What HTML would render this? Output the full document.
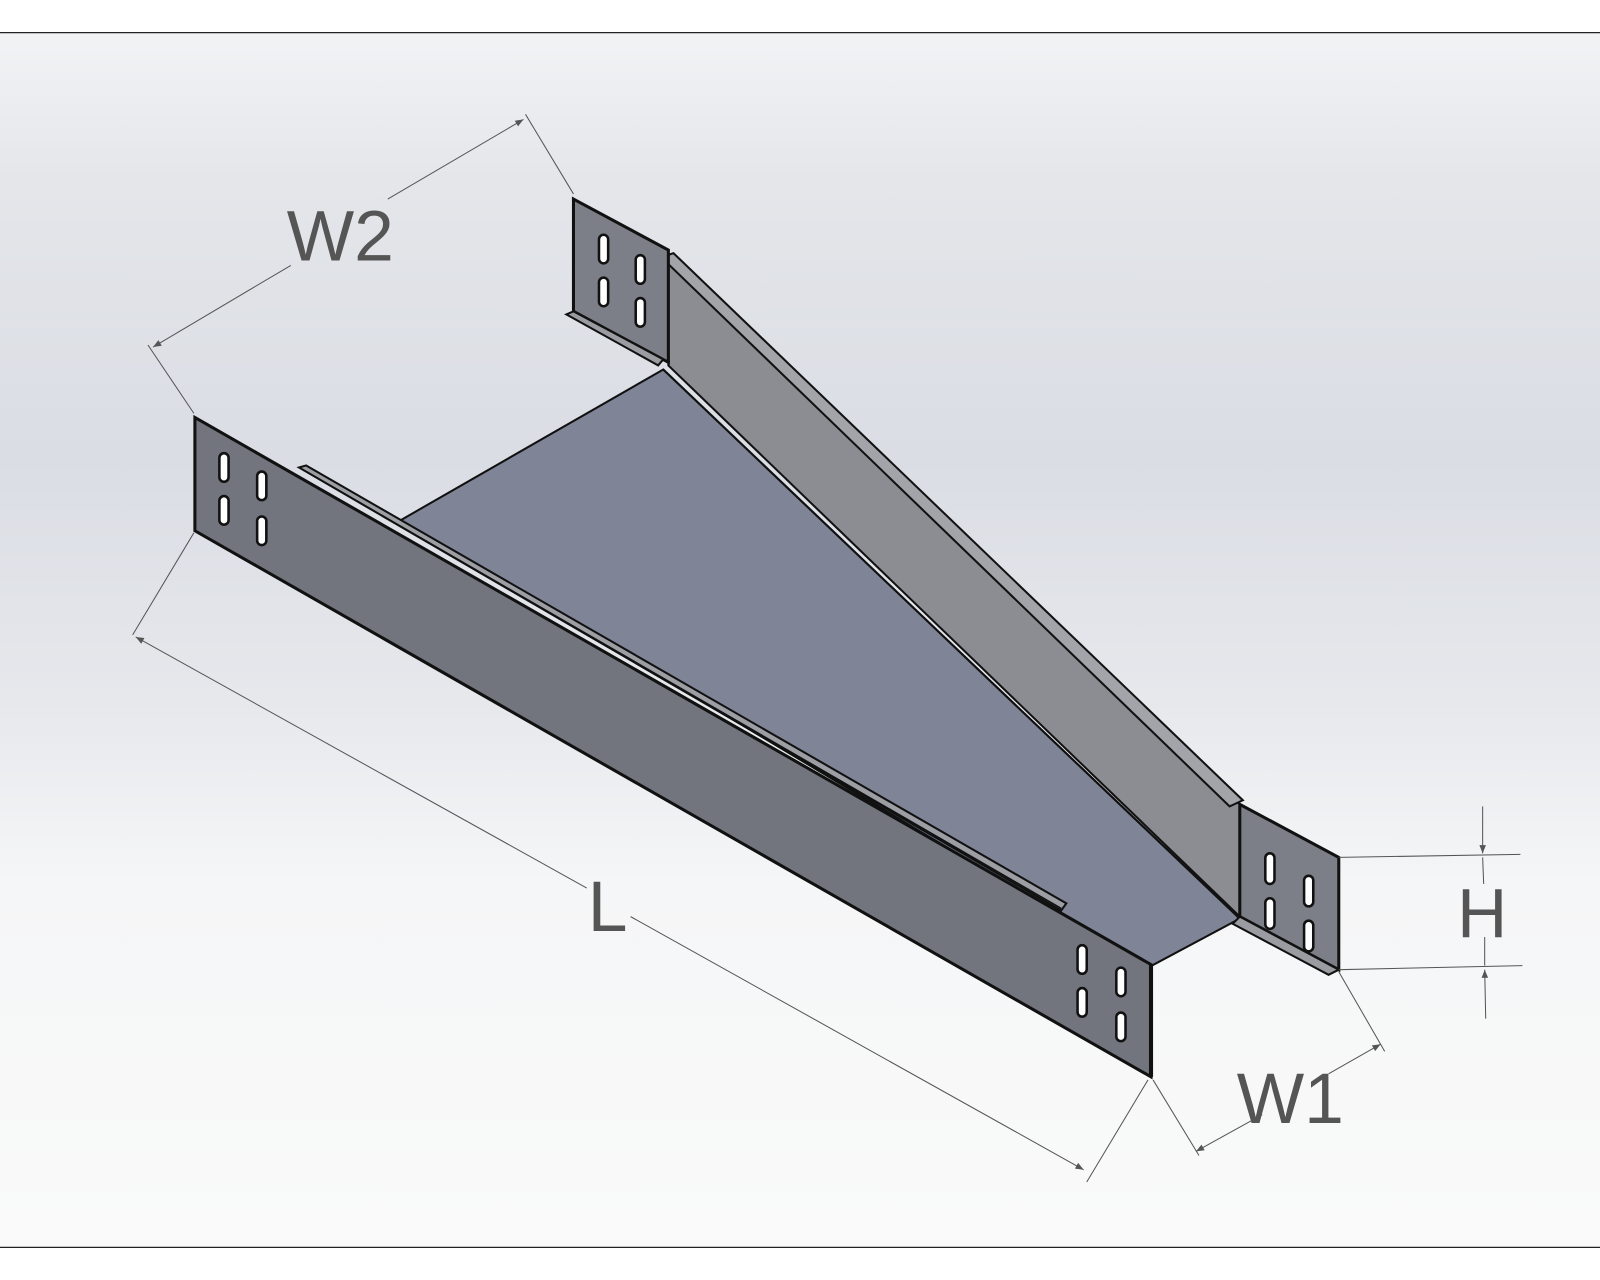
<!DOCTYPE html>
<html><head><meta charset="utf-8"><style>
html,body{margin:0;padding:0;background:#fff;}
svg{display:block;}
text{font-family:"Liberation Sans",sans-serif;fill:#555;}
</style></head><body>
<svg width="1600" height="1280" viewBox="0 0 1568 1254" preserveAspectRatio="none">
<defs>
<linearGradient id="bg" x1="0" y1="0" x2="0" y2="1">
<stop offset="0" stop-color="#f2f3f5"/>
<stop offset="0.12" stop-color="#e4e6ea"/>
<stop offset="0.35" stop-color="#dadde4"/>
<stop offset="0.55" stop-color="#e6e8ec"/>
<stop offset="0.7" stop-color="#f5f6f7"/>
<stop offset="1" stop-color="#fafafa"/>
</linearGradient>
<marker id="ar" viewBox="0 0 10 10" refX="10" refY="5" markerWidth="18" markerHeight="8" orient="auto-start-reverse" markerUnits="userSpaceOnUse"><path d="M0,1 L10,5 L0,9 z" fill="#555"/></marker>
</defs>
<rect x="0" y="32" width="1568" height="1190" fill="url(#bg)"/>
<line x1="0" y1="32" x2="1568" y2="32" stroke="#222" stroke-width="1.2"/>
<line x1="0" y1="1222" x2="1568" y2="1222" stroke="#222" stroke-width="1.2"/>

<polygon points="392,510 650,362 1215,900 1125,948" fill="#7f8497" stroke="#111" stroke-width="2"/>
<polygon points="655,250 1215,788 1215,898 655,358" fill="#8b8d93" stroke="#111" stroke-width="2"/>
<line x1="650" y1="362" x2="1215" y2="900" stroke="#111" stroke-width="2"/>
<polygon points="648,252 660,248 1218,784 1205,790" fill="#a2a4aa" stroke="#111" stroke-width="2"/>
<polygon points="562,195 655,245 655,355 562,305" fill="#7c7f87" stroke="#111" stroke-width="3"/>
<polygon points="555,308 562,305 650,352 645,358" fill="#9a9ca2" stroke="#111" stroke-width="2"/>
<g fill="#fff" stroke="#111" stroke-width="2.5">
<rect x="587" y="230" width="9" height="28" rx="4.5"/>
<rect x="587" y="272" width="9" height="28" rx="4.5"/>
<rect x="623" y="250" width="9" height="28" rx="4.5"/>
<rect x="623" y="292" width="9" height="28" rx="4.5"/>
</g>
<polygon points="1215,788 1312,840 1312,950 1215,898" fill="#7c7f87" stroke="#111" stroke-width="3"/>
<polygon points="1215,898 1312,950 1302,955 1208,905" fill="#9a9ca2" stroke="#111" stroke-width="2"/>
<g fill="#fff" stroke="#111" stroke-width="2.5">
<rect x="1240" y="836" width="9" height="30" rx="4.5"/>
<rect x="1240" y="880" width="9" height="30" rx="4.5"/>
<rect x="1278" y="858" width="9" height="30" rx="4.5"/>
<rect x="1278" y="902" width="9" height="30" rx="4.5"/>
</g>
<polygon points="191,409 1128,945 1128,1055 191,520" fill="#72757e" stroke="#111" stroke-width="3"/>
<polygon points="293,458 300,456 1045,885 1040,892" fill="#9c9ea4" stroke="#111" stroke-width="2"/>
<line x1="300" y1="462" x2="1040" y2="890" stroke="#111" stroke-width="1.5"/>
<g fill="#fff" stroke="#111" stroke-width="2.5">
<rect x="215" y="444" width="9" height="28" rx="4.5"/>
<rect x="215" y="486" width="9" height="28" rx="4.5"/>
<rect x="252" y="462" width="9" height="28" rx="4.5"/>
<rect x="252" y="506" width="9" height="28" rx="4.5"/>
<rect x="1056" y="926" width="9" height="28" rx="4.5"/>
<rect x="1056" y="968" width="9" height="28" rx="4.5"/>
<rect x="1094" y="948" width="9" height="28" rx="4.5"/>
<rect x="1094" y="992" width="9" height="28" rx="4.5"/>
</g>
<line x1="1128" y1="945" x2="1128" y2="1055" stroke="#111" stroke-width="4"/>

<g stroke="#555" stroke-width="1" fill="none">
<line x1="515" y1="112" x2="562" y2="190"/>
<line x1="145" y1="338" x2="190" y2="405"/>
<line x1="150" y1="340" x2="285" y2="260" marker-start="url(#ar)"/>
<line x1="380" y1="195" x2="513" y2="117" marker-end="url(#ar)"/>
<line x1="130" y1="622" x2="190" y2="522"/>
<line x1="1065" y1="1158" x2="1125" y2="1058"/>
<line x1="133" y1="624" x2="575" y2="870" marker-start="url(#ar)"/>
<line x1="618" y1="898" x2="1062" y2="1146" marker-end="url(#ar)"/>
<line x1="1130" y1="1058" x2="1175" y2="1132"/>
<line x1="1312" y1="952" x2="1357" y2="1030"/>
<line x1="1172" y1="1128" x2="1237" y2="1092" marker-start="url(#ar)"/>
<line x1="1302" y1="1052" x2="1353" y2="1023" marker-end="url(#ar)"/>
<line x1="1312" y1="840" x2="1490" y2="837"/>
<line x1="1312" y1="950" x2="1492" y2="946"/>
<line x1="1453" y1="790" x2="1453" y2="836" marker-end="url(#ar)"/>
<line x1="1453" y1="840" x2="1454" y2="866"/>
<line x1="1455" y1="918" x2="1455" y2="946"/>
<line x1="1456" y1="998" x2="1455" y2="950" marker-end="url(#ar)"/>
</g>
<text x="281" y="255" font-size="70">W2</text>
<text x="576" y="912" font-size="70">L</text>
<text x="1212" y="1100" font-size="70">W1</text>
<text x="1428" y="918" font-size="68">H</text>
</svg>
</body></html>
